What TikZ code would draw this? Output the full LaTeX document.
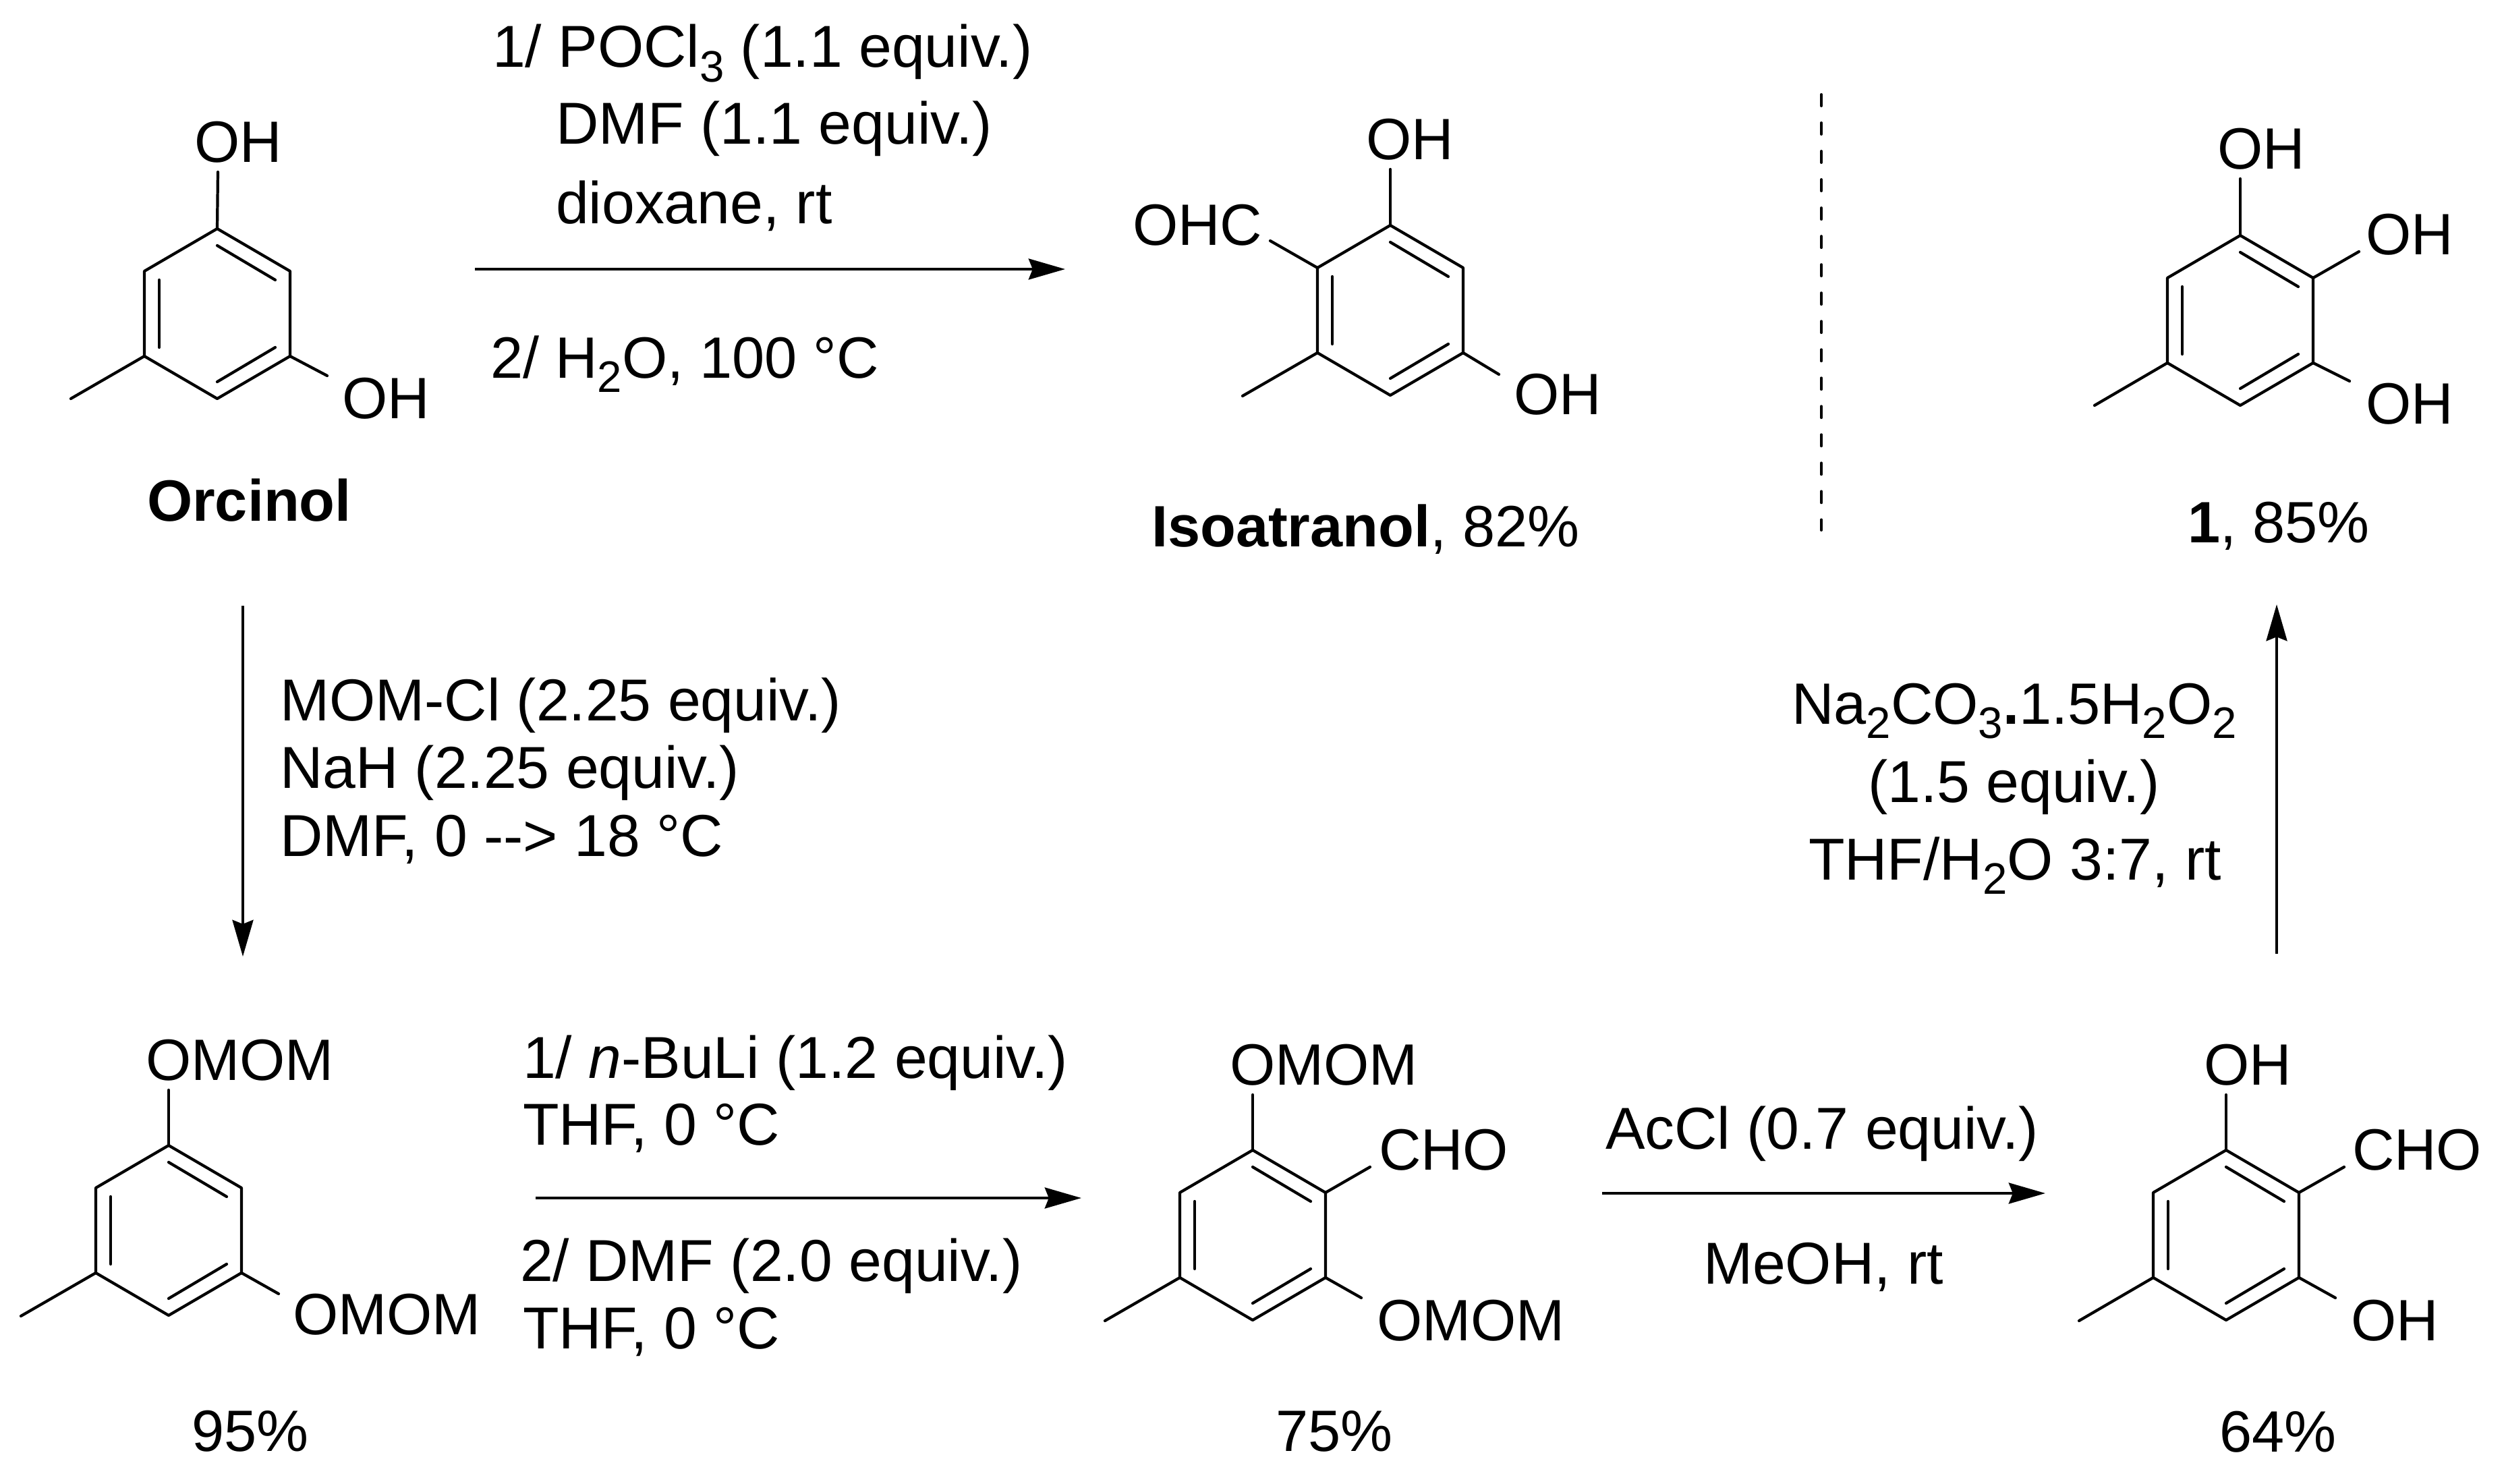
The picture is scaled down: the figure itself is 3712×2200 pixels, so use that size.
\documentclass[tikz,border=0pt]{standalone}
\usepackage{fontspec}
\setmainfont{Liberation Sans}
\usetikzlibrary{arrows.meta}
\newcommand{\sbs}[1]{\raisebox{-6.2pt}{\fontsize{18.6}{18.6}\selectfont #1}}
\tikzset{
  bond/.style={line width=1.2pt,line cap=round},
  rxn/.style={line width=1.15pt,-{Stealth[length=15.4pt,width=8.8pt,inset=1.7pt]}},
  chem/.style={inner sep=0pt,outer sep=0pt,anchor=base west,font=\fontsize{24.6}{28}\selectfont},
  cond/.style={inner sep=0pt,outer sep=0pt,anchor=base west,font=\fontsize{24.95}{28}\selectfont},
  benzring/.pic={
    \coordinate (-t) at (0,-126);
    \coordinate (-ur) at (108,-63);
    \coordinate (-lr) at (108,63);
    \coordinate (-b) at (0,126);
    \coordinate (-ll) at (-108,63);
    \coordinate (-ul) at (-108,-63);
    \draw[bond,line join=round] (-t) -- (-ur) -- (-lr) -- (-b) -- (-ll) -- (-ul) -- cycle;
    \draw[bond] (0,-101) -- (86,-50);
    \draw[bond] (-86,-50) -- (-86,50);
    \draw[bond] (0,101) -- (86,50);
  }
}

\begin{document}
\begin{tikzpicture}[x=0.01cm,y=-0.01cm]
\useasboundingbox (0,0) rectangle (3712,2200);

% Orcinol
\pic (orc) at (322,465) {benzring};
\coordinate (orcA) at (323,255);
\coordinate (orcB) at (485,557);
\coordinate (orcC) at (105,591);
\draw[bond] (orc-t) -- (orcA);
\draw[bond] (orc-lr) -- (orcB);
\draw[bond] (orc-ll) -- (orcC);
\node[chem] (orcOHa) at (288,241) {OH};
\node[chem] (orcOHb) at (507,620) {OH};
\node[chem] (orcName) at (218,772) {\textbf{Orcinol}};

% Isoatranol
\pic (iso) at (2061,460) {benzring};
\coordinate (isoA) at (2061,251);
\coordinate (isoB) at (1883,357);
\coordinate (isoC) at (1842,587);
\coordinate (isoD) at (2222,555);
\draw[bond] (iso-t) -- (isoA);
\draw[bond] (iso-ul) -- (isoB);
\draw[bond] (iso-ll) -- (isoC);
\draw[bond] (iso-lr) -- (isoD);
\node[chem] (isoOHa) at (2025,236) {OH};
\node[chem] (isoCHO) at (1679,363) {OHC};
\node[chem] (isoOHb) at (2244,614) {OH};
\node[chem] (isoName) at (1707,810) {\textbf{Isoatranol}, 82\%};

% Dashed separator
\coordinate (sepA) at (2700,140);
\coordinate (sepB) at (2700,786);
\draw[line width=1.1pt,line cap=round,dash pattern=on 4.84pt off 7.11pt] (sepA) -- (sepB);

% Compound 1
\pic (one) at (3321,475) {benzring};
\coordinate (oneA) at (3321,265);
\coordinate (oneB) at (3497,373);
\coordinate (oneC) at (3483,565);
\coordinate (oneD) at (3105,601);
\draw[bond] (one-t) -- (oneA);
\draw[bond] (one-ur) -- (oneB);
\draw[bond] (one-lr) -- (oneC);
\draw[bond] (one-ll) -- (oneD);
\node[chem] (oneOHa) at (3287,251) {OH};
\node[chem] (oneOHb) at (3507,377) {OH};
\node[chem] (oneOHc) at (3507,628) {OH};
\node[chem] (oneName) at (3243,804) {\textbf{1}, 85\%};

% Bis-MOM ether
\pic (mom) at (250,1824) {benzring};
\coordinate (momA) at (250,1616);
\coordinate (momB) at (413,1918);
\coordinate (momC) at (31,1951);
\draw[bond] (mom-t) -- (momA);
\draw[bond] (mom-lr) -- (momB);
\draw[bond] (mom-ll) -- (momC);
\node[chem] (momOa) at (216,1601) {OMOM};
\node[chem] (momOb) at (434,1978) {OMOM};
\node[chem] (momYield) at (284,2151) {95\%};

% Aldehyde
\pic (ald) at (1857,1831) {benzring};
\coordinate (aldA) at (1857,1623);
\coordinate (aldB) at (2031,1730);
\coordinate (aldC) at (2018,1924);
\coordinate (aldD) at (1638,1958);
\draw[bond] (ald-t) -- (aldA);
\draw[bond] (ald-ur) -- (aldB);
\draw[bond] (ald-lr) -- (aldC);
\draw[bond] (ald-ll) -- (aldD);
\node[chem] (aldOa) at (1823,1608) {OMOM};
\node[chem] (aldCHO) at (2044,1734) {CHO};
\node[chem] (aldOb) at (2041,1987) {OMOM};
\node[chem] (aldYield) at (1891,2151) {75\%};

% Deprotected aldehyde
\pic (dep) at (3300,1831) {benzring};
\coordinate (depA) at (3300,1623);
\coordinate (depB) at (3475,1730);
\coordinate (depC) at (3462,1924);
\coordinate (depD) at (3082,1958);
\draw[bond] (dep-t) -- (depA);
\draw[bond] (dep-ur) -- (depB);
\draw[bond] (dep-lr) -- (depC);
\draw[bond] (dep-ll) -- (depD);
\node[chem] (depOHa) at (3267,1608) {OH};
\node[chem] (depCHO) at (3487,1734) {CHO};
\node[chem] (depOHb) at (3485,1987) {OH};
\node[chem] (depYield) at (3290,2152) {64\%};

% Arrows
\coordinate (arAs) at (704,399);
\coordinate (arAe) at (1579,399);
\coordinate (arBs) at (360,898);
\coordinate (arBe) at (360,1418);
\coordinate (arCs) at (794,1776);
\coordinate (arCe) at (1603,1776);
\coordinate (arDs) at (2375,1769);
\coordinate (arDe) at (3032,1769);
\coordinate (arEs) at (3375,1414);
\coordinate (arEe) at (3375,896);
\draw[rxn] (arAs) -- (arAe);
\draw[rxn] (arBs) -- (arBe);
\draw[rxn] (arCs) -- (arCe);
\draw[rxn] (arDs) -- (arDe);
\draw[rxn] (arEs) -- (arEe);

% Conditions
\node[cond] (cAa) at (730,100) {1/ POCl\sbs{3} (1.1 equiv.)};
\node[cond] (cAb) at (824,214) {DMF (1.1 equiv.)};
\node[cond] (cAc) at (824,331) {dioxane, rt};
\node[chem] (cAd) at (727,560) {2/ H\sbs{2}O, 100 °C};
\node[cond] (cBa) at (415,1068) {MOM-Cl (2.25 equiv.)};
\node[cond] (cBb) at (415,1168) {NaH (2.25 equiv.)};
\node[cond] (cBc) at (415,1269) {DMF, 0 {-}{-}> 18 °C};
\node[cond] (cCa) at (775,1598) {1/ \textit{n}-BuLi (1.2 equiv.)};
\node[cond] (cCb) at (775,1697) {THF, 0 °C};
\node[cond] (cCc) at (771,1899) {2/ DMF (2.0 equiv.)};
\node[cond] (cCd) at (775,1999) {THF, 0 °C};
\node[cond] (cDa) at (2380,1703) {AcCl (0.7 equiv.)};
\node[cond] (cDb) at (2525,1903) {MeOH, rt};
\node[chem] (cEa) at (2656,1073) {Na\sbs{2}CO\sbs{3}\textbf{.}1.5H\sbs{2}O\sbs{2}};
\node[cond] (cEb) at (2769,1189) {(1.5 equiv.)};
\node[cond] (cEc) at (2681,1304) {THF/H\sbs{2}O 3:7, rt};
\end{tikzpicture}
\end{document}
